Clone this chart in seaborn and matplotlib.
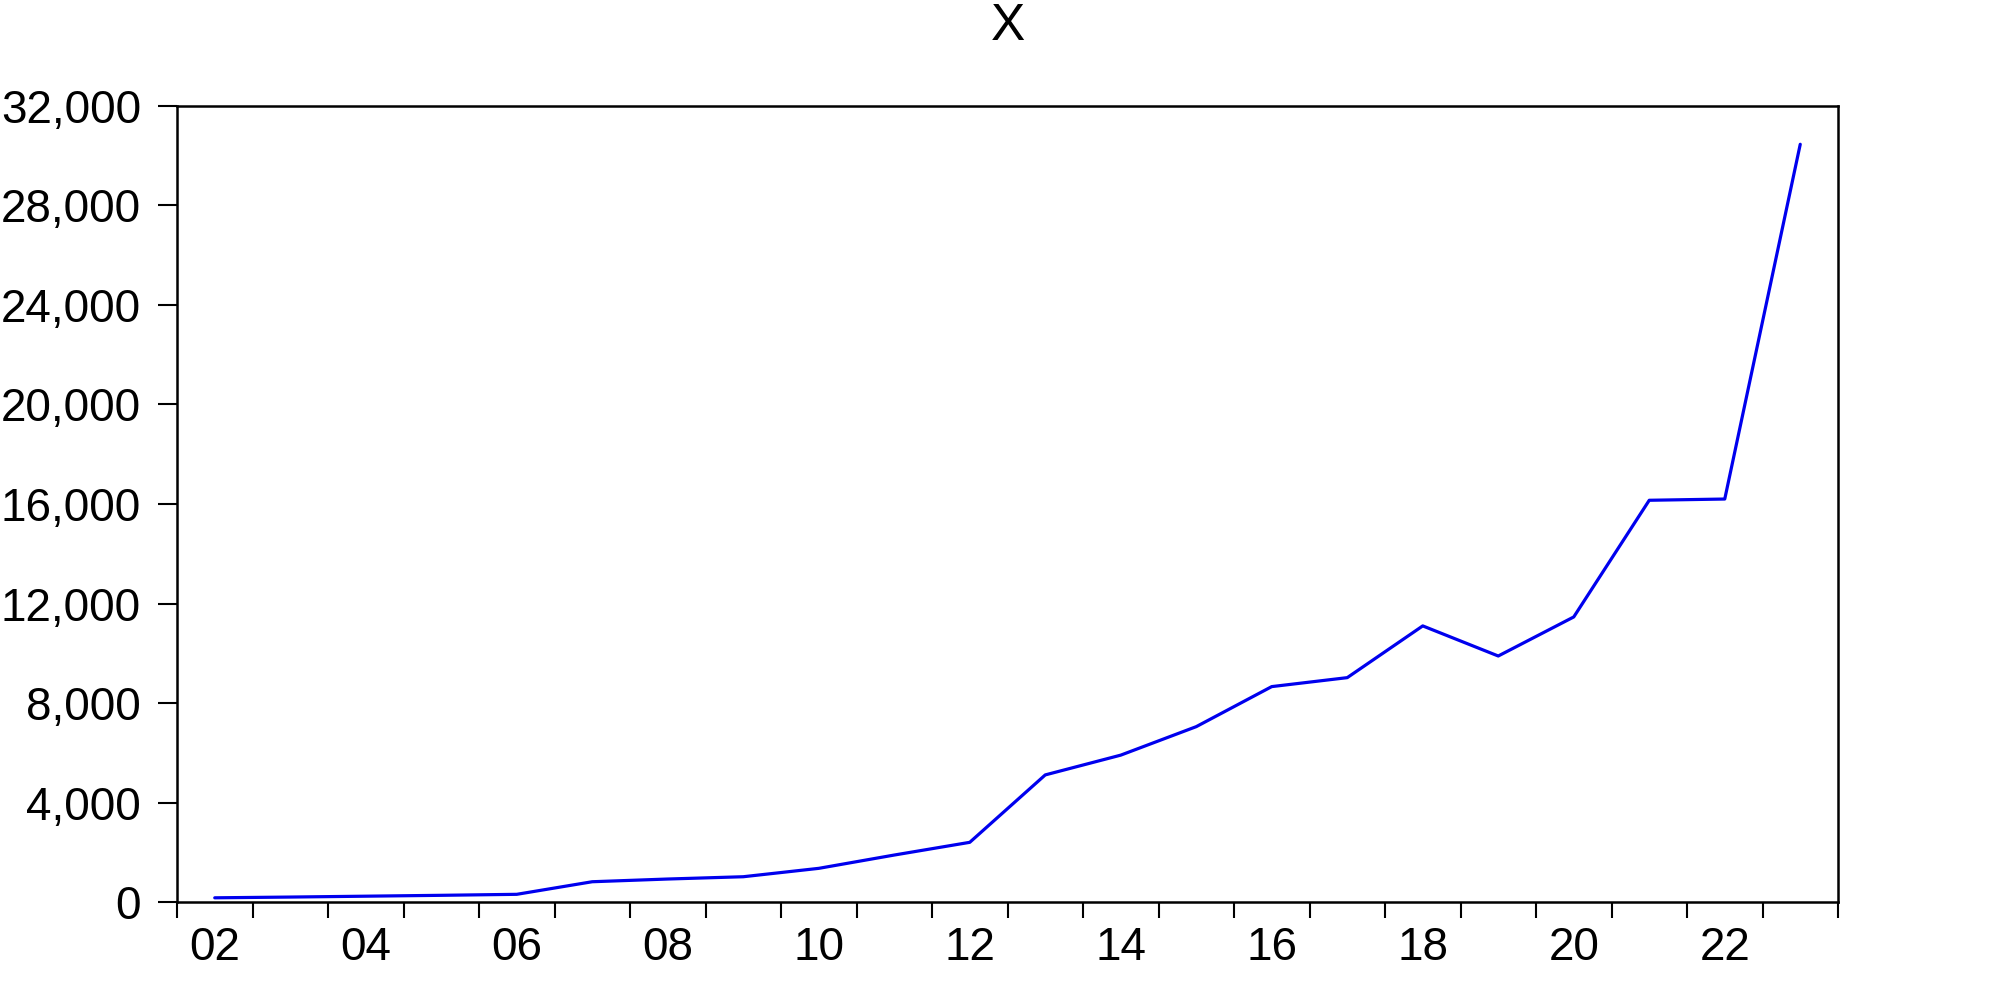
import matplotlib
matplotlib.use("Agg")
import matplotlib.pyplot as plt
import matplotlib.ticker as mticker
import pandas as pd
import seaborn as sns

years = list(range(2002, 2024))
x_values = [170, 200, 235, 270, 310, 816, 925, 1017, 1354, 1889, 2400,
            5110, 5905, 7050, 8660, 9020, 11100, 9890, 11460, 16150, 16200, 30460]
y_ticks = [0, 4000, 8000, 12000, 16000, 20000, 24000, 28000, 32000]
label_years = [2002, 2004, 2006, 2008, 2010, 2012, 2014, 2016, 2018, 2020, 2022]

df = pd.DataFrame({"year": years, "X": x_values})

sns.set_style("white")
plt.rcParams['font.family'] = ['Liberation Sans', 'DejaVu Sans']
plt.rcParams['text.color'] = 'black'
plt.rcParams['xtick.color'] = 'black'
plt.rcParams['ytick.color'] = 'black'

fig = plt.figure(figsize=(20, 9.84), dpi=100)
ax = fig.add_axes([0.0885, 0.0833, 0.919 - 0.0885, 0.8923 - 0.0833])

sns.lineplot(data=df, x="year", y="X", ax=ax, color="#0000ee", linewidth=2.3)

ax.set_xlim(years[0] - 0.5, years[-1] + 0.5)
ax.set_ylim(0, 32000)
ax.set_xlabel("")
ax.set_ylabel("")

# boundaries between years get the tick marks, even years get the labels
ax.xaxis.set_major_locator(mticker.FixedLocator([y - 0.5 for y in years] + [years[-1] + 0.5]))
ax.xaxis.set_major_formatter(mticker.NullFormatter())
ax.xaxis.set_minor_locator(mticker.FixedLocator(label_years))
ax.xaxis.set_minor_formatter(mticker.FixedFormatter([f"{y % 100:02d}" for y in label_years]))
ax.tick_params(axis="x", which="major", direction="out", length=11.5, width=1.5,
               bottom=True, top=False)
ax.tick_params(axis="x", which="minor", length=0, pad=17, labelsize=33, bottom=True)

ax.set_yticks(y_ticks)
ax.yaxis.set_major_formatter(mticker.FuncFormatter(lambda v, p: f"{int(v):,}"))
ax.tick_params(axis="y", direction="out", length=14, width=1.5,
               left=True, right=False, pad=12, labelsize=33)

for s in ax.spines.values():
    s.set_visible(True)
    s.set_color("black")
    s.set_linewidth(1.8)

fig.text(0.504, 1 - 40 / 984, "X", ha="center", va="baseline", fontsize=37)

fig.savefig("out.png", dpi=100, facecolor="white")
